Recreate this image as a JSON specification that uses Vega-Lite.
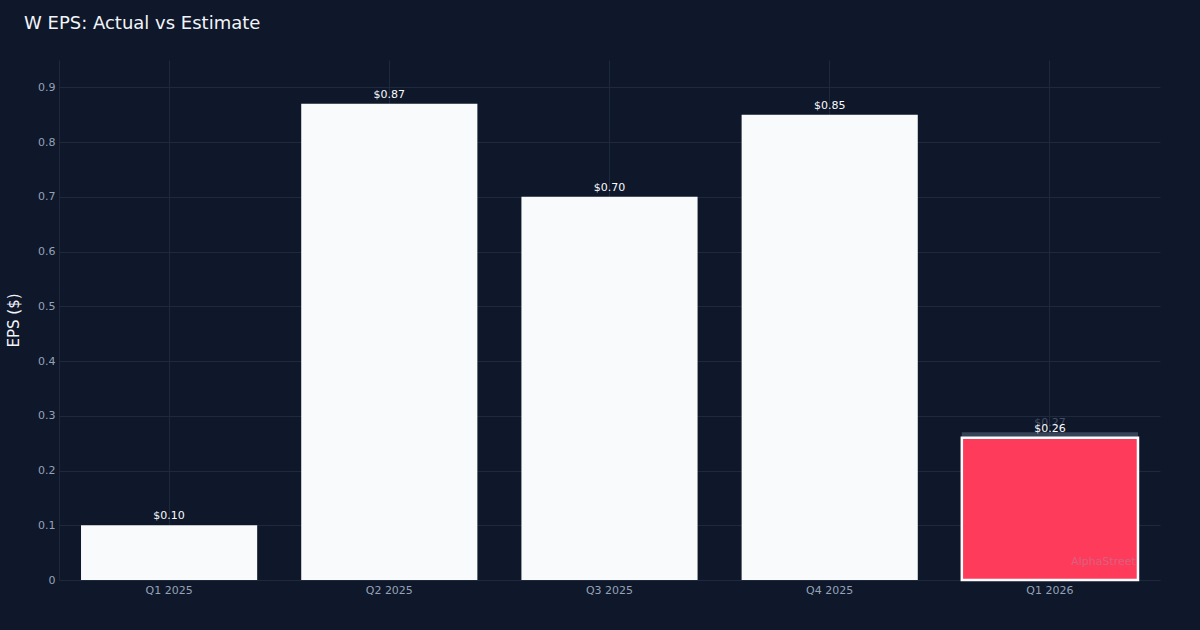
{
  "$schema": "https://vega.github.io/schema/vega-lite/v6.json",
  "width": 1101,
  "height": 520,
  "autosize": {"type": "none"},
  "padding": {"left": 59, "top": 60, "right": 40, "bottom": 50},
  "background": "#0f172a",
  "title": {
    "text": "W EPS: Actual vs Estimate",
    "anchor": "start",
    "frame": "group",
    "dx": -35,
    "offset": 27,
    "font": "DejaVu Sans",
    "fontSize": 18,
    "fontWeight": "normal",
    "color": "#f1f5f9"
  },
  "config": {
    "view": {"stroke": null},
    "font": "DejaVu Sans"
  },
  "data": {
    "values": [
      {"quarter": "Q1 2025", "actual": 0.10, "estimate": null, "label": "$0.10", "estLabel": null, "status": "reported"},
      {"quarter": "Q2 2025", "actual": 0.87, "estimate": null, "label": "$0.87", "estLabel": null, "status": "reported"},
      {"quarter": "Q3 2025", "actual": 0.70, "estimate": null, "label": "$0.70", "estLabel": null, "status": "reported"},
      {"quarter": "Q4 2025", "actual": 0.85, "estimate": null, "label": "$0.85", "estLabel": null, "status": "reported"},
      {"quarter": "Q1 2026", "actual": 0.26, "estimate": 0.27, "label": "$0.26", "estLabel": "$0.27", "status": "miss"}
    ]
  },
  "encoding": {
    "x": {
      "field": "quarter",
      "type": "nominal",
      "sort": ["Q1 2025", "Q2 2025", "Q3 2025", "Q4 2025", "Q1 2026"],
      "scale": {"domain": ["Q1 2025", "Q2 2025", "Q3 2025", "Q4 2025", "Q1 2026"], "paddingInner": 0.2, "paddingOuter": 0.1},
      "axis": {
        "title": null,
        "labelAngle": 0,
        "labelColor": "#94a3b8",
        "labelFontSize": 11,
        "labelPadding": 4,
        "ticks": false,
        "domain": true,
        "domainColor": "#1e293b",
        "grid": true,
        "gridColor": "#1e293b",
        "bandPosition": 0.5
      }
    }
  },
  "layer": [
    {
      "mark": {"type": "bar", "color": "#475569", "opacity": 0.7},
      "encoding": {
        "y": {
          "field": "estimate",
          "type": "quantitative",
          "scale": {"domain": [0, 0.95], "nice": false},
          "axis": {
            "title": "EPS ($)",
            "titleColor": "#f1f5f9",
            "titleFontSize": 15,
            "titleFontWeight": "normal",
            "titlePadding": 16,
            "labelColor": "#94a3b8",
            "labelFontSize": 11,
            "labelPadding": 4,
            "format": ".1~f",
            "ticks": false,
            "values": [0, 0.1, 0.2, 0.3, 0.4, 0.5, 0.6, 0.7, 0.8, 0.9],
            "domain": true,
            "domainColor": "#1e293b",
            "grid": true,
            "gridColor": "#1e293b"
          }
        }
      }
    },
    {
      "mark": {"type": "text", "baseline": "bottom", "dy": -4, "fontSize": 11, "color": "#64748b", "opacity": 0.6},
      "encoding": {
        "y": {"field": "estimate", "type": "quantitative"},
        "text": {"field": "estLabel"}
      }
    },
    {
      "mark": {"type": "bar"},
      "encoding": {
        "y": {"field": "actual", "type": "quantitative"},
        "color": {
          "field": "status",
          "type": "nominal",
          "scale": {"domain": ["reported", "miss"], "range": ["#f8fafc", "#ff3b5c"]},
          "legend": null
        },
        "stroke": {
          "field": "status",
          "type": "nominal",
          "scale": {"domain": ["reported", "miss"], "range": ["#f8fafc", "#ffffff"]},
          "legend": null
        },
        "strokeWidth": {
          "field": "status",
          "type": "nominal",
          "scale": {"domain": ["reported", "miss"], "range": [0, 2.5]},
          "legend": null
        }
      }
    },
    {
      "mark": {"type": "text", "baseline": "bottom", "dy": -4, "fontSize": 11, "color": "#f8fafc"},
      "encoding": {
        "y": {"field": "actual", "type": "quantitative"},
        "text": {"field": "label"}
      }
    },
    {
      "transform": [{"filter": "datum.status === 'miss'"}],
      "mark": {"type": "text", "text": "AlphaStreet", "align": "right", "baseline": "middle", "dx": 86, "fontSize": 11, "color": "#94a3b8", "opacity": 0.35},
      "encoding": {
        "y": {"datum": 0.033, "type": "quantitative"}
      }
    }
  ]
}
